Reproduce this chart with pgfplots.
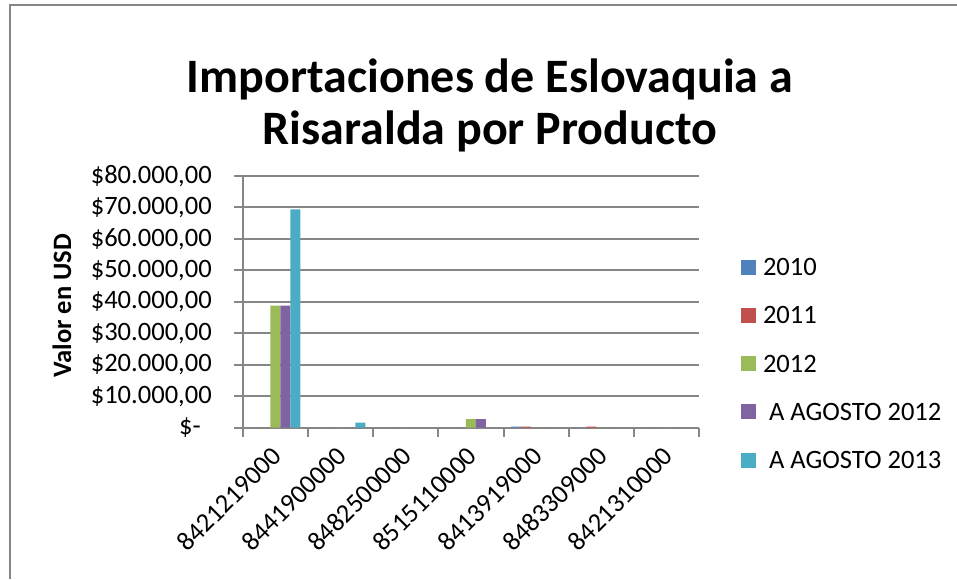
\documentclass[border=0pt]{standalone}
\usepackage{pgfplots}
\pgfplotsset{compat=1.18}
\usepackage{fontspec}
\setmainfont{Carlito}
\definecolor{cA}{HTML}{4F81BD}
\definecolor{cB}{HTML}{C0504D}
\definecolor{cC}{HTML}{9BBB59}
\definecolor{cD}{HTML}{8064A2}
\definecolor{cE}{HTML}{4BACC6}
\definecolor{gridgray}{HTML}{868686}
\newcommand{\lbl}{\fontsize{19.9}{24}\selectfont}
\begin{document}
\begin{tikzpicture}
% 1 px of the reference = 0.75pt
\useasboundingbox (0pt,0pt) rectangle (717.75pt,434.25pt);
\draw[gridgray, line width=1.5pt] (7.125pt,0pt) -- (7.125pt,430.5pt) -- (717.75pt,430.5pt);
\begin{axis}[
  at={(182.0pt,113.5pt)}, anchor=south west,
  scale only axis, width=342.4pt, height=188.8pt,
  ybar=0pt, bar width=7.5pt,
  xmin=-0.5, xmax=6.5, ymin=0, ymax=80000,
  axis lines*=left,
  axis line style={draw=gridgray, line width=1.5pt, -},
  tick align=outside,
  major tick length=6.5pt, minor tick length=6.75pt,
  tick style={draw=gridgray, line width=1.5pt},
  xtick={0,...,6},
  xticklabels={8421219000,8441900000,8482500000,8515110000,8413919000,8483309000,8421310000},
  major x tick style={draw=none},
  minor xtick={-0.5,0.5,...,6.5},
  xticklabel style={font=\lbl, xshift=1pt, yshift=-11pt, rotate=45, anchor=east, inner sep=0pt},
  scaled y ticks=false,
  ytick={0,10000,...,80000},
  yticklabels={\$-\kern8.25pt,\$10.000{,}00,\$20.000{,}00,\$30.000{,}00,\$40.000{,}00,\$50.000{,}00,\$60.000{,}00,\$70.000{,}00,\$80.000{,}00},
  yticklabel style={font=\lbl, inner sep=0pt, xshift=-16.5pt},
  ymajorgrids,
  grid style={draw=gridgray, line width=1.5pt},
  ylabel={Valor en USD},
  ylabel style={font=\lbl\bfseries, at={(axis description cs:-0.396,0.4835)}, anchor=center},
  title={Importaciones de Eslovaquia a\\Risaralda por Producto},
  title style={font=\bfseries\fontsize{36}{39}\selectfont, align=center, at={(axis description cs:0.5417,1.25)}, anchor=center},
  legend cell align=left,
  legend image code/.code={\fill[#1] (0pt,-5.625pt) rectangle (11.25pt,5.625pt);},
  legend style={at={(1.0916,0.6702)}, anchor=north west, draw=none, fill=none,
    inner sep=0pt, outer sep=0pt, font=\lbl, row sep=23.65pt,
    nodes={inner sep=0pt, text height=12.5pt, text depth=0pt},
    /tikz/every odd column/.append style={column sep=5.25pt}},
]
\addplot[fill=cA, draw=none] coordinates {(0,0) (1,0) (2,0) (3,0) (4,300) (5,0) (6,0)};
\addplot[fill=cB, draw=none] coordinates {(0,0) (1,0) (2,0) (3,0) (4,300) (5,300) (6,0)};
\addplot[fill=cC, draw=none] coordinates {(0,38800) (1,0) (2,0) (3,2700) (4,0) (5,0) (6,0)};
\addplot[fill=cD, draw=none] coordinates {(0,38800) (1,0) (2,0) (3,2700) (4,0) (5,0) (6,0)};
\addplot[fill=cE, draw=none] coordinates {(0,69400) (1,1600) (2,0) (3,0) (4,0) (5,0) (6,0)};
\legend{2010,2011,2012,~A AGOSTO 2012,~A AGOSTO 2013}
\end{axis}
\end{tikzpicture}
\end{document}
